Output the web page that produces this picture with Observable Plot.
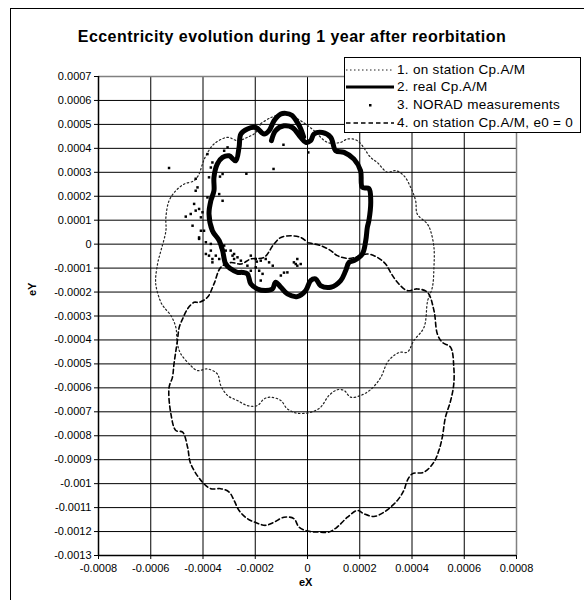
<!DOCTYPE html>
<html>
<head>
<meta charset="utf-8">
<script src="https://cdn.jsdelivr.net/npm/d3@7"></script>
<script src="https://cdn.jsdelivr.net/npm/@observablehq/plot@0.6"></script>
<style>
  body { margin: 0; background: #fff; }
  #wrap { position: relative; width: 584px; height: 600px; overflow: hidden; font-family: "Liberation Sans", Arial, sans-serif; color: #000; }
  #frame { position: absolute; left: 10px; top: 8px; width: 700px; height: 700px; border-left: 1px solid #000; border-top: 1px solid #000; }
  #title { position: absolute; left: 0; width: 584px; top: 28px; text-align: center; font-weight: bold; font-size: 16px; letter-spacing: 0.45px; white-space: nowrap; }
  #chart { position: absolute; left: 0; top: 0; }
  .axlabel { position: absolute; font-weight: bold; font-size: 11px; white-space: nowrap; }
  #legend { position: absolute; left: 344px; top: 57px; width: 237px; height: 76px; box-sizing: border-box; border: 1px solid #000; background: #fff; overflow: hidden; }
  .row { position: absolute; left: 0; height: 17px; line-height: 17px; white-space: nowrap; font-size: 13.5px; letter-spacing: 0.3px; }
  .row svg { position: absolute; left: 0; top: 0; }
  .row span { position: absolute; left: 52px; top: 0; }
</style>
</head>
<body>
<div id="wrap">
  <div id="frame"></div>
  <div id="chart"></div>
  <div id="title">Eccentricity evolution during 1 year after reorbitation</div>
  <div class="axlabel" id="xlab" style="left:299px; top:576px;">eX</div>
  <div class="axlabel" id="ylab" style="left:26px; top:282px; transform: rotate(-90deg); transform-origin: 7px 7px;">eY</div>
  <div id="legend"></div>
</div>
<script>
// ---------- axis ticks ----------
const xTicks = [-0.0008, -0.0006, -0.0004, -0.0002, 0, 0.0002, 0.0004, 0.0006, 0.0008];
const xTickLabels = ["-0.0008", "-0.0006", "-0.0004", "-0.0002", "0", "0.0002", "0.0004", "0.0006", "0.0008"];
const yTicks = [0.0007, 0.0006, 0.0005, 0.0004, 0.0003, 0.0002, 0.0001, 0, -0.0001, -0.0002, -0.0003, -0.0004, -0.0005, -0.0006, -0.0007, -0.0008, -0.0009, -0.001, -0.0011, -0.0012, -0.0013];
const yTickLabels = ["0.0007", "0.0006", "0.0005", "0.0004", "0.0003", "0.0002", "0.0001", "0", "-0.0001", "-0.0002", "-0.0003", "-0.0004", "-0.0005", "-0.0006", "-0.0007", "-0.0008", "-0.0009", "-0.001", "-0.0011", "-0.0012", "-0.0013"];

// ---------- series names ----------
const seriesNames = ["1. on station Cp.A/M", "2. real Cp.A/M", "3. NORAD measurements", "4. on station Cp.A/M, e0 = 0"];

// ---------- 1. on station Cp.A/M  [eX, eY] ----------
const onStation = [
  [-1.79e-4, 5.03e-4], [-1.41e-4, 5.28e-4], [-0.83e-4, 5.44e-4], [-0.26e-4, 5.15e-4], [0.25e-4, 4.74e-4],
  [0.76e-4, 4.25e-4], [1.27e-4, 4.25e-4], [1.53e-4, 4.39e-4], [1.91e-4, 4.32e-4], [2.42e-4, 3.62e-4],
  [2.67e-4, 3.41e-4], [3.06e-4, 3.00e-4], [3.37e-4, 3.07e-4], [3.69e-4, 2.86e-4], [3.95e-4, 2.37e-4],
  [4.14e-4, 1.81e-4], [4.20e-4, 1.26e-4], [4.59e-4, 0.84e-4], [4.71e-4, 0.56e-4], [4.84e-4, -0.13e-4],
  [4.84e-4, -0.97e-4], [4.78e-4, -1.80e-4], [4.60e-4, -2.36e-4], [4.46e-4, -3.47e-4], [4.07e-4, -4.03e-4],
  [3.82e-4, -4.51e-4], [3.56e-4, -4.51e-4], [3.31e-4, -4.65e-4], [3.06e-4, -4.93e-4], [2.80e-4, -5.57e-4],
  [2.42e-4, -6.07e-4], [2.03e-4, -6.32e-4], [1.65e-4, -6.39e-4], [1.40e-4, -6.11e-4], [1.14e-4, -6.08e-4],
  [0.82e-4, -6.32e-4], [0.50e-4, -6.81e-4], [0.12e-4, -7.02e-4], [-0.39e-4, -7.06e-4], [-0.77e-4, -6.88e-4],
  [-1.02e-4, -6.53e-4], [-1.41e-4, -6.39e-4], [-1.66e-4, -6.46e-4], [-1.92e-4, -6.74e-4], [-2.30e-4, -6.74e-4],
  [-2.68e-4, -6.53e-4], [-3.06e-4, -6.32e-4], [-3.32e-4, -5.90e-4], [-3.45e-4, -5.42e-4], [-3.83e-4, -5.21e-4],
  [-4.21e-4, -5.28e-4], [-4.47e-4, -5.07e-4], [-4.85e-4, -4.58e-4], [-4.98e-4, -4.16e-4], [-5.04e-4, -3.47e-4],
  [-5.23e-4, -2.98e-4], [-5.49e-4, -2.64e-4], [-5.61e-4, -2.43e-4], [-5.81e-4, -1.65e-4], [-5.74e-4, -0.83e-4],
  [-5.61e-4, -0.27e-4], [-5.42e-4, 0.56e-4], [-5.42e-4, 1.12e-4], [-5.30e-4, 1.81e-4], [-5.04e-4, 2.23e-4],
  [-4.72e-4, 2.51e-4], [-4.34e-4, 2.65e-4], [-4.15e-4, 2.93e-4], [-4.02e-4, 3.35e-4], [-3.89e-4, 3.69e-4],
  [-3.58e-4, 4.18e-4], [-3.06e-4, 4.46e-4], [-2.68e-4, 4.32e-4], [-2.30e-4, 4.46e-4], [-1.98e-4, 4.66e-4],
  [-1.79e-4, 5.03e-4]
];

// ---------- 2. real Cp.A/M ----------
const realCp = [
  [-1.38e-4, 4.32e-4], [-1.22e-4, 4.74e-4], [-0.90e-4, 4.94e-4], [-0.58e-4, 4.87e-4], [-0.26e-4, 4.46e-4],
  [-0.07e-4, 4.25e-4], [0.12e-4, 4.32e-4], [0.25e-4, 4.60e-4], [0.57e-4, 4.66e-4], [0.89e-4, 4.46e-4],
  [1.08e-4, 3.90e-4], [1.40e-4, 3.83e-4], [1.78e-4, 3.55e-4], [2.03e-4, 3.07e-4], [2.10e-4, 2.37e-4],
  [2.35e-4, 2.32e-4], [2.42e-4, 1.81e-4], [2.35e-4, 0.98e-4], [2.29e-4, 0.70e-4], [2.23e-4, 0.15e-4],
  [2.10e-4, -0.41e-4], [1.78e-4, -0.69e-4], [1.59e-4, -0.76e-4], [1.46e-4, -1.11e-4], [1.27e-4, -1.52e-4],
  [0.89e-4, -1.80e-4], [0.50e-4, -1.73e-4], [0.31e-4, -1.45e-4], [0.12e-4, -1.52e-4], [-0.07e-4, -1.94e-4],
  [-0.39e-4, -2.19e-4], [-0.77e-4, -2.08e-4], [-1.02e-4, -1.80e-4], [-1.22e-4, -1.59e-4], [-1.34e-4, -1.87e-4],
  [-1.60e-4, -1.94e-4], [-1.92e-4, -1.87e-4], [-2.17e-4, -1.66e-4], [-2.30e-4, -1.24e-4], [-2.49e-4, -1.18e-4],
  [-2.68e-4, -1.18e-4], [-2.94e-4, -1.03e-4], [-3.13e-4, -0.83e-4], [-3.25e-4, -0.27e-4], [-3.38e-4, 0.15e-4],
  [-3.64e-4, 0.56e-4], [-3.77e-4, 1.26e-4], [-3.70e-4, 1.81e-4], [-3.58e-4, 2.23e-4], [-3.58e-4, 2.79e-4],
  [-3.45e-4, 3.35e-4], [-3.25e-4, 3.62e-4], [-3.00e-4, 3.69e-4], [-2.75e-4, 3.48e-4], [-2.62e-4, 4.04e-4],
  [-2.55e-4, 4.60e-4], [-2.30e-4, 4.81e-4], [-1.98e-4, 4.87e-4], [-1.66e-4, 4.60e-4], [-1.47e-4, 4.74e-4],
  [-1.28e-4, 5.15e-4], [-1.02e-4, 5.43e-4], [-0.83e-4, 5.46e-4], [-0.60e-4, 5.38e-4], [-0.39e-4, 5.08e-4],
  [-0.26e-4, 4.82e-4], [-0.15e-4, 4.48e-4]
];

// ---------- 3. NORAD measurements ----------
const norad = [
  [-5.30e-4, 3.18e-4], [-3.83e-4, 3.76e-4], [-3.64e-4, 3.41e-4], [-3.19e-4, 3.90e-4], [-3.06e-4, 4.04e-4],
  [-2.34e-4, 2.94e-4], [-1.30e-4, 3.14e-4], [-0.92e-4, 4.15e-4], [0.03e-4, 3.83e-4], [-3.25e-4, 2.93e-4],
  [-3.35e-4, 2.82e-4], [-3.77e-4, 2.79e-4], [-3.70e-4, 3.20e-4], [-4.28e-4, 2.73e-4], [-4.21e-4, 2.37e-4],
  [-4.28e-4, 2.23e-4], [-3.83e-4, 1.95e-4], [-3.25e-4, 1.81e-4], [-3.38e-4, 2.09e-4], [-3.64e-4, 2.02e-4],
  [-4.34e-4, 1.68e-4], [-4.28e-4, 1.40e-4], [-4.15e-4, 1.47e-4], [-4.02e-4, 1.33e-4], [-4.47e-4, 1.26e-4],
  [-4.66e-4, 1.15e-4], [-4.08e-4, 1.12e-4], [-4.40e-4, 0.77e-4], [-4.15e-4, 0.22e-4], [-3.96e-4, 0.56e-4],
  [-3.89e-4, 0.08e-4], [-3.70e-4, 0.01e-4], [-4.08e-4, 0.56e-4], [-3.64e-4, 0.49e-4], [-3.89e-4, -0.41e-4],
  [-3.70e-4, -0.27e-4], [-3.64e-4, -0.62e-4], [-3.77e-4, -0.48e-4], [-3.64e-4, -0.76e-4], [-3.51e-4, -0.48e-4],
  [-3.38e-4, -0.62e-4], [-3.32e-4, -0.13e-4], [-3.19e-4, -0.06e-4], [-3.13e-4, -0.27e-4], [-2.94e-4, -0.27e-4],
  [-2.87e-4, -0.48e-4], [-2.81e-4, -0.62e-4], [-2.68e-4, -0.55e-4], [-2.55e-4, -0.69e-4], [-2.30e-4, -0.90e-4],
  [-2.17e-4, -0.48e-4], [-1.98e-4, -0.62e-4], [-1.79e-4, -0.69e-4], [-1.60e-4, -0.62e-4], [-1.47e-4, -0.76e-4],
  [-1.85e-4, -1.11e-4], [-1.72e-4, -1.24e-4], [-1.98e-4, -0.97e-4], [-2.17e-4, -1.11e-4], [-1.79e-4, -1.52e-4],
  [-0.90e-4, -1.19e-4], [-0.77e-4, -1.18e-4], [-1.02e-4, -1.31e-4], [-0.52e-4, -0.76e-4], [-0.39e-4, -0.62e-4],
  [-0.26e-4, -0.83e-4], [-0.39e-4, -0.90e-4], [-0.45e-4, -0.83e-4], [-1.53e-4, -1.94e-4], [-4.15e-4, 0.28e-4],
  [-2.81e-4, -0.41e-4], [-1.94e-4, -0.73e-4], [-1.33e-4, -0.90e-4], [-1.38e-4, 4.32e-4]
];

// ---------- 4. on station Cp.A/M, e0 = 0 ----------
const onStationE0 = [
  [0.01e-4, 0.06e-4], [0.50e-4, -0.06e-4], [0.89e-4, -0.27e-4], [1.14e-4, -0.48e-4], [1.60e-4, -0.60e-4],
  [2.29e-4, -0.41e-4], [2.67e-4, -0.55e-4], [2.99e-4, -0.83e-4], [3.18e-4, -1.18e-4], [3.44e-4, -1.59e-4],
  [3.82e-4, -1.94e-4], [4.20e-4, -1.87e-4], [4.59e-4, -2.01e-4], [4.84e-4, -2.77e-4], [4.97e-4, -3.75e-4],
  [5.16e-4, -4.10e-4], [5.48e-4, -4.31e-4], [5.60e-4, -5.14e-4], [5.60e-4, -5.83e-4], [5.48e-4, -6.53e-4],
  [5.28e-4, -7.23e-4], [5.16e-4, -8.06e-4], [5.03e-4, -8.61e-4], [4.84e-4, -9.10e-4], [4.46e-4, -9.52e-4],
  [4.01e-4, -9.59e-4], [3.82e-4, -9.87e-4], [3.69e-4, -10.28e-4], [3.44e-4, -10.70e-4], [2.93e-4, -11.19e-4],
  [2.54e-4, -11.37e-4], [2.16e-4, -11.26e-4], [1.91e-4, -11.12e-4], [1.53e-4, -11.40e-4], [1.14e-4, -11.81e-4],
  [0.82e-4, -12.02e-4], [0.38e-4, -12.02e-4], [0.00e-4, -11.98e-4], [-0.33e-4, -11.81e-4], [-0.52e-4, -11.46e-4],
  [-0.90e-4, -11.40e-4], [-1.28e-4, -11.61e-4], [-1.60e-4, -11.74e-4], [-1.92e-4, -11.65e-4], [-2.30e-4, -11.46e-4],
  [-2.62e-4, -11.12e-4], [-2.81e-4, -10.70e-4], [-3.00e-4, -10.35e-4], [-3.32e-4, -10.21e-4], [-3.70e-4, -10.21e-4],
  [-4.02e-4, -9.94e-4], [-4.47e-4, -9.17e-4], [-4.59e-4, -8.48e-4], [-4.78e-4, -7.85e-4], [-5.04e-4, -7.78e-4],
  [-5.23e-4, -7.08e-4], [-5.30e-4, -5.99e-4], [-5.17e-4, -5.56e-4], [-5.11e-4, -5.00e-4], [-4.98e-4, -4.03e-4],
  [-4.91e-4, -3.47e-4], [-4.78e-4, -3.12e-4], [-4.59e-4, -2.70e-4], [-4.34e-4, -2.43e-4], [-4.15e-4, -2.43e-4],
  [-3.83e-4, -2.22e-4], [-3.58e-4, -1.66e-4], [-3.32e-4, -0.97e-4], [-2.94e-4, -0.77e-4], [-2.55e-4, -0.83e-4],
  [-2.17e-4, -0.62e-4], [-1.66e-4, -0.55e-4], [-1.28e-4, 0.01e-4], [-1.02e-4, 0.28e-4], [-0.64e-4, 0.35e-4],
  [-0.26e-4, 0.28e-4], [0.00e-4, 0.08e-4]
];

// ---------- styles ----------
const style1 = {stroke: "#222", strokeWidth: 1.2, strokeDasharray: "1.5,2.5"};
const style2 = {stroke: "#000", strokeWidth: 5};
const style4 = {stroke: "#000", strokeWidth: 1.6, strokeDasharray: "4.5,3"};

const xLab = new Map(xTicks.map((t, i) => [t, xTickLabels[i]]));
const yLab = new Map(yTicks.map((t, i) => [t, yTickLabels[i]]));
const px = d => d[0], py = d => d[1];

const chart = Plot.plot({
  width: 584,
  height: 600,
  marginLeft: 98,
  marginRight: 68,
  marginTop: 76,
  marginBottom: 45,
  style: {fontFamily: "'Liberation Sans', Arial, sans-serif", fontSize: "11px", background: "transparent", color: "#000"},
  x: {domain: [-0.0008, 0.0008], label: null},
  y: {domain: [-0.0013, 0.0007], label: null},
  marks: [
    Plot.gridX(xTicks.filter(t => t !== 0.0008), {stroke: "#000", strokeOpacity: 1, strokeWidth: 1}),
    Plot.gridY(yTicks.filter(t => t !== 0.0007), {stroke: "#000", strokeOpacity: 1, strokeWidth: 1}),
    Plot.ruleY([0.0007], {stroke: "#808080", strokeWidth: 1.5}),
    Plot.ruleX([0.0008], {stroke: "#808080", strokeWidth: 1.5}),
    Plot.ruleX([-0.0008], {stroke: "#000", strokeWidth: 1.5}),
    Plot.ruleY([-0.0013], {stroke: "#000", strokeWidth: 1.5}),
    Plot.axisX(xTicks, {tickSize: 4, tickPadding: 5, tickFormat: d => xLab.get(d), label: null, fontSize: 11}),
    Plot.axisY(yTicks, {tickSize: 4, tickPadding: 3, tickFormat: d => yLab.get(d), label: null, fontSize: 11}),
    Plot.line(onStation, {x: px, y: py, curve: "catmull-rom", ...style1}),
    Plot.line(onStationE0, {x: px, y: py, curve: "catmull-rom", ...style4}),
    Plot.line(realCp, {x: px, y: py, curve: "catmull-rom", strokeLinejoin: "round", strokeLinecap: "round", ...style2}),
    Plot.dot(norad, {x: px, y: py, symbol: "square", r: 1.4, fill: "#000", stroke: null})
  ]
});
document.getElementById("chart").appendChild(chart);

// ---------- legend ----------
const legend = document.getElementById("legend");
const rowTops = [3, 20, 38, 56];
const sampleStyles = [style1, style2, null, style4];
seriesNames.forEach((name, i) => {
  const row = document.createElement("div");
  row.className = "row";
  row.style.top = rowTops[i] + "px";
  row.style.width = "260px";
  let sample;
  if (sampleStyles[i]) {
    const s = sampleStyles[i];
    const w = i === 1 ? 3 : s.strokeWidth;
    sample = `<svg width="50" height="17"><line x1="1" x2="49" y1="9" y2="9" stroke="${s.stroke}" stroke-width="${w}" ${s.strokeDasharray ? `stroke-dasharray="${s.strokeDasharray}"` : ""}/></svg>`;
  } else {
    sample = `<svg width="50" height="17"><rect x="24" y="8" width="2.5" height="2.5" fill="#000"/></svg>`;
  }
  row.innerHTML = sample + `<span>${name}</span>`;
  legend.appendChild(row);
});
</script>
</body>
</html>
